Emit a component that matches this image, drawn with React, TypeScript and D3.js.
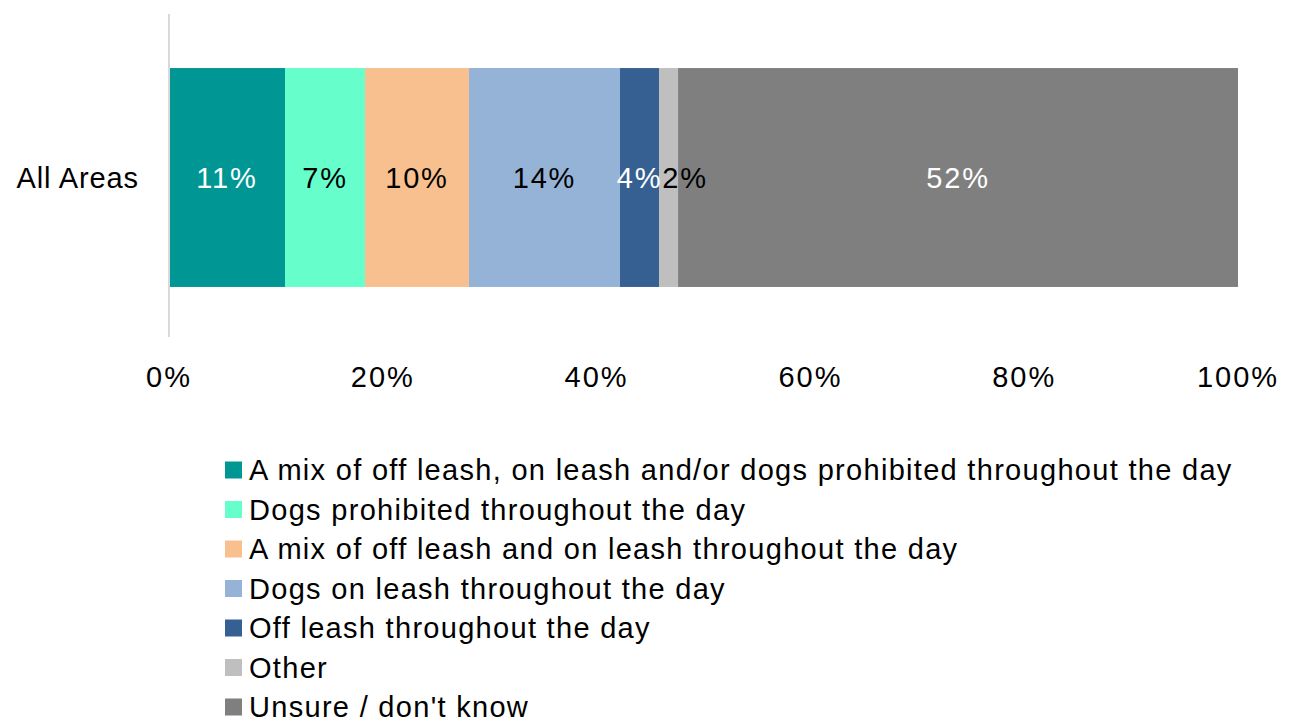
import React, { useEffect, useRef } from "react";
import * as d3 from "d3";

// Data
const categories = ["All Areas"];
const seriesNames = [
  "A mix of off leash, on leash and/or dogs prohibited throughout the day",
  "Dogs prohibited throughout the day",
  "A mix of off leash and on leash throughout the day",
  "Dogs on leash throughout the day",
  "Off leash throughout the day",
  "Other",
  "Unsure / don't know",
];
const seriesValues = [0.1085, 0.0748, 0.0973, 0.1413, 0.0365, 0.0178, 0.5238];
const xTicks = [0, 0.2, 0.4, 0.6, 0.8, 1];

const colors = ["#009694", "#66FFCC", "#F9C08F", "#95B3D7", "#366092", "#BFBFBF", "#7F7F7F"];
const labelColors = ["#fff", "#000", "#000", "#000", "#fff", "#000", "#fff"];

const App = () => {
  const svgRef = useRef<SVGSVGElement>(null);

  useEffect(() => {
    document.body.style.margin = "0";
    const width = 1292;
    const height = 722;
    const font = "'Liberation Sans', Arial, sans-serif";
    const fontSize = 29;

    const svg = d3.select(svgRef.current).attr("width", width).attr("height", height);
    svg.selectAll("*").remove();

    // scales
    const x = d3.scaleLinear().domain([0, 1]).range([169, 1238]);
    const y = d3.scaleBand().domain(categories).range([18, 337]).paddingInner(0.3).paddingOuter(0.16);

    // stacked segments
    let acc = 0;
    const segs = seriesValues.map((v, i) => {
      const s = { i, x0: acc, x1: acc + v, v };
      acc += v;
      return s;
    });

    const g = svg.append("g");
    const band = y(categories[0])!;

    g.selectAll("rect.seg")
      .data(segs)
      .join("rect")
      .attr("class", "seg")
      .attr("x", (d) => x(d.x0))
      .attr("y", band)
      .attr("width", (d) => x(d.x1) - x(d.x0))
      .attr("height", y.bandwidth())
      .attr("fill", (d) => colors[d.i]);

    // vertical axis line
    g.append("line")
      .attr("x1", x(0))
      .attr("x2", x(0))
      .attr("y1", 14)
      .attr("y2", 337)
      .attr("stroke", "#D9D9D9")
      .attr("stroke-width", 2);

    // category label
    g.append("text")
      .attr("x", x(0) - 30)
      .attr("y", band + y.bandwidth() / 2)
      .attr("text-anchor", "end")
      .attr("dominant-baseline", "central")
      .attr("font-family", font)
      .attr("font-size", fontSize)
      .attr("letter-spacing", 0.9)
      .attr("fill", "#000")
      .text(categories[0]);

    // data labels, nudged right when they would overlap the previous one
    const fmt = d3.format(".0%");
    const labels = g
      .selectAll("text.lbl")
      .data(segs)
      .join("text")
      .attr("class", "lbl")
      .attr("y", band + y.bandwidth() / 2)
      .attr("text-anchor", "middle")
      .attr("dominant-baseline", "central")
      .attr("font-family", font)
      .attr("font-size", fontSize)
      .attr("letter-spacing", 1.8)
      .attr("fill", (d) => labelColors[d.i])
      .text((d) => fmt(d.v));

    let prevRight = -Infinity;
    labels.each(function (d) {
      const w = (this as SVGTextElement).getComputedTextLength();
      let cx = (x(d.x0) + x(d.x1)) / 2;
      if (cx - w / 2 < prevRight) cx = prevRight + w / 2;
      prevRight = cx + w / 2;
      d3.select(this).attr("x", cx);
    });

    // x axis tick labels
    g.selectAll("text.tick")
      .data(xTicks)
      .join("text")
      .attr("class", "tick")
      .attr("x", (d) => x(d))
      .attr("y", 377)
      .attr("text-anchor", "middle")
      .attr("dominant-baseline", "central")
      .attr("font-family", font)
      .attr("font-size", fontSize)
      .attr("letter-spacing", 2)
      .attr("fill", "#000")
      .text((d) => fmt(d));

    // legend
    const legendY = d3.scalePoint().domain(seriesNames).range([470, 707]);
    const legend = g
      .selectAll("g.leg")
      .data(seriesNames)
      .join("g")
      .attr("class", "leg")
      .attr("transform", (d) => `translate(225, ${legendY(d)})`);

    legend
      .append("rect")
      .attr("x", 0)
      .attr("y", -8.5)
      .attr("width", 17)
      .attr("height", 17)
      .attr("fill", (_, i) => colors[i]);

    legend
      .append("text")
      .attr("x", 24)
      .attr("y", 0)
      .attr("dominant-baseline", "central")
      .attr("font-family", font)
      .attr("font-size", fontSize)
      .attr("letter-spacing", 1.3)
      .attr("fill", "#000")
      .text((d) => d);
  }, []);

  return <svg ref={svgRef} style={{ display: "block" }}></svg>;
};

export default App;
